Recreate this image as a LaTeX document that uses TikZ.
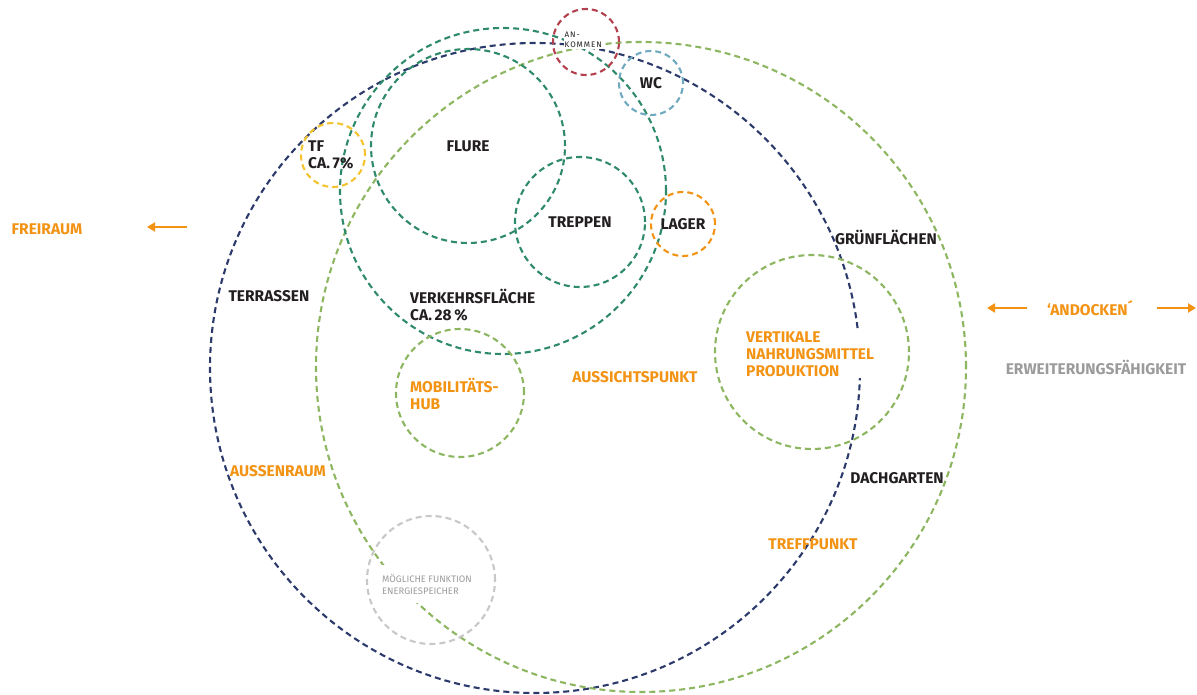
\documentclass[tikz,border=0pt]{standalone}
\usepackage{fontspec}
\setmainfont{Fira Sans}
\usetikzlibrary{arrows.meta}
\definecolor{navyblau}{HTML}{2B3A6B}
\definecolor{petrol}{HTML}{2F8A6C}
\definecolor{hellgruen}{HTML}{8DB661}
\definecolor{dunkelrot}{HTML}{B5404D}
\definecolor{hellblau}{HTML}{6FA9C0}
\definecolor{gelb}{HTML}{F3C42F}
\definecolor{orangeton}{HTML}{F39314}
\definecolor{hellgrau}{HTML}{C8C8C8}
\definecolor{textgrau}{HTML}{9B9B9B}
\definecolor{schrift}{HTML}{231F20}
\tikzset{
  ring/.style={circle, draw=#1, dashed, dash pattern=on 6pt off 4pt, line width=2.1pt, inner sep=0pt},
  titel/.style={font=\fontsize{15.5}{17}\selectfont\bfseries, text=schrift, align=left, inner sep=1pt},
  hinweis/.style={titel, text=orangeton},
  pfeil/.style={draw=orangeton, line width=2pt, -{Triangle[length=8pt,width=9pt]}}
}
\begin{document}
\begin{tikzpicture}[x=1pt, y=-1pt]
            \useasboundingbox[fill=white] (0,0) rectangle (1197,695);

            \node[ring=navyblau, minimum size=650pt] (gebaeude) at (535,368) {};
            \node[ring=hellgruen, minimum size=650pt] (dach) at (641,367) {};
            \node[ring=petrol, minimum size=326pt] (verkehr) at (503,191) {};
            \node[ring=petrol, minimum size=194pt, titel] (flure) at (468,146) {FLURE};
            \node[ring=petrol, minimum size=130pt, titel] (treppen) at (580,222) {TREPPEN};
            \node[ring=gelb, minimum size=64pt] (tf) at (333,155) {};
            \node[ring=dunkelrot, minimum size=66pt] (ankommen) at (586,42) {};
            \node[ring=hellblau, minimum size=64pt, titel] (wc) at (651,83) {WC};
            \node[ring=orangeton, minimum size=64pt, titel] (lager) at (683,224) {LAGER};
            \node[ring=hellgruen, minimum size=128pt] (mobil) at (460,393) {};
            \node[ring=hellgruen, minimum size=194pt] (nahrung) at (812,352) {};
            \node[ring=hellgrau, minimum size=128pt] (speicher) at (431,580) {};

            \node[titel, anchor=west] (tftext) at (307,155) {TF\\CA.\,7\%};
            \node[titel, anchor=west, font=\fontsize{8}{10.5}\selectfont\addfontfeature{LetterSpace=12}, fill=white, inner sep=0.5pt] (ankommentext) at (564,40) {AN-\\KOMMEN};
            \node[titel, anchor=west] (verkehrtext) at (409,305) {VERKEHRSFLÄCHE\\CA.\,28\,\%};
            \node[hinweis, anchor=west] (mobiltext) at (409,394) {MOBILITÄTS-\\HUB};
            \node[hinweis, anchor=west, fill=white] (nahrungtext) at (745,354) {VERTIKALE\\NAHRUNGSMITTEL\\PRODUKTION};
            \node[titel, anchor=west, font=\fontsize{9.4}{12}\selectfont, text=textgrau, fill=white, inner ysep=9pt] (speichertext) at (381,584) {MÖGLICHE FUNKTION\\ENERGIESPEICHER};

            \node[titel] (gruen) at (886,237) {GRÜNFLÄCHEN};
            \node[titel] (terrassen) at (269,296) {TERRASSEN};
            \node[titel] (dachgarten) at (897,478) {DACHGARTEN};
            \node[hinweis] (aussicht) at (635,377) {AUSSICHTSPUNKT};
            \node[hinweis] (aussen) at (278,471) {AUSSENRAUM};
            \node[hinweis] (treff) at (813,544) {TREFFPUNKT};

            \node[hinweis] (freiraum) at (47,229) {FREIRAUM};
            \node[hinweis] (andocken) at (1090,308) {‘ANDOCKEN´};
            \node[titel, text=textgrau] (erweiterung) at (1096,367) {ERWEITERUNGSFÄHIGKEIT};

            \coordinate (freiraumspitze) at (147,227);
            \coordinate (freiraumende) at (187,227);
            \coordinate (linksspitze) at (987,308);
            \coordinate (linksende) at (1027,308);
            \coordinate (rechtsende) at (1157,308);
            \coordinate (rechtsspitze) at (1196,308);

            \draw[pfeil] (freiraumende) -- (freiraumspitze);
            \draw[pfeil] (linksende) -- (linksspitze);
            \draw[pfeil] (rechtsende) -- (rechtsspitze);
        \end{tikzpicture}
\end{document}
